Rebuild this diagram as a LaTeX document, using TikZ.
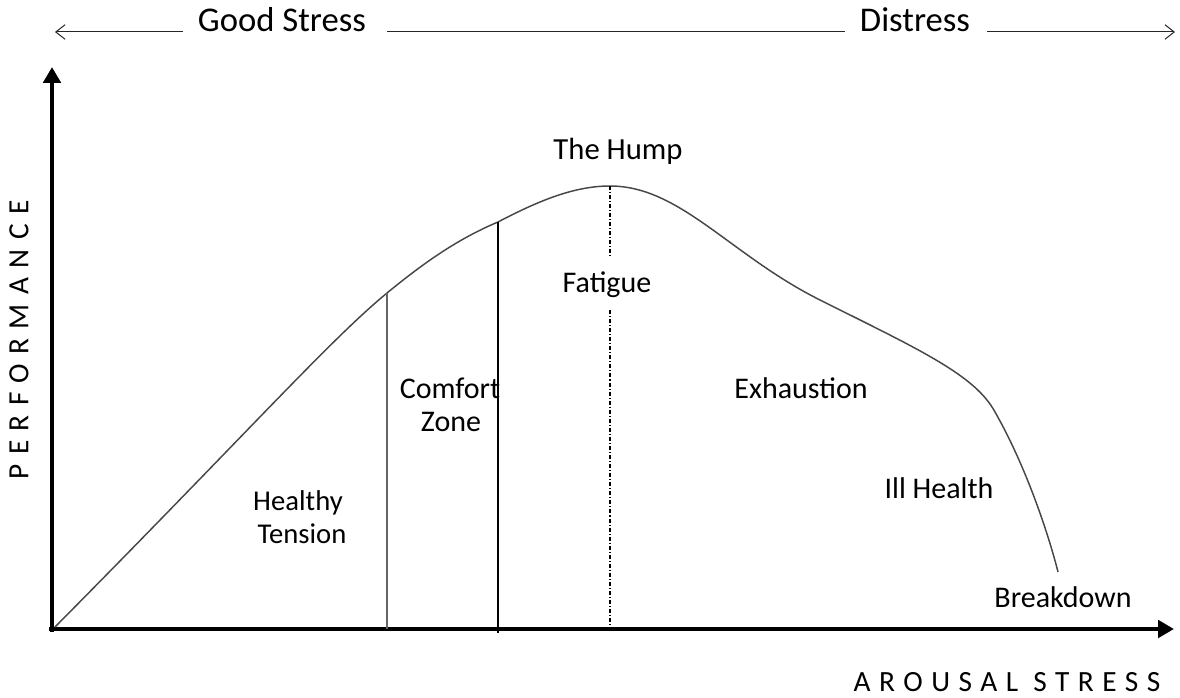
\documentclass[tikz,border=0pt]{standalone}
\usepackage{fontspec}
\setmainfont{Carlito}
\usetikzlibrary{arrows.meta}
\begin{document}
\begin{tikzpicture}[x=0.75pt,y=-0.75pt,
  lbl/.style={font=\fontsize{22.5}{27}\selectfont, anchor=base, inner sep=0pt},
  toplbl/.style={font=\fontsize{26}{31}\selectfont, anchor=base, inner sep=0pt},
  axislbl/.style={font=\fontsize{22}{26}\selectfont, inner sep=0pt},
  axis/.style={line width=3pt, -{Triangle[length=12pt,width=13pt]}},
  topline/.style={line width=0.75pt, draw=black!85},
  toparrow/.style={topline, -{Straight Barb[length=7pt,width=11pt,line width=0.75pt]}},
  curve/.style={line width=1.1pt, draw=black!72},
  divider/.style={line width=0.8pt},
  humpline/.style={line width=0.8pt, dash pattern=on 3pt off 1.5pt on 0.8pt off 1.5pt}
]
\useasboundingbox (0,0) rectangle (1180,698);

% coordinates
\coordinate (ytip) at (52,67);
\coordinate (xtip) at (1174,629);
\coordinate (ystart) at (52,632);
\coordinate (xstart) at (49,629);

% axes
\draw[axis] (ystart) -- (ytip);
\draw[axis] (xstart) -- (xtip);

% curve
\coordinate (c0) at (55,627);
\coordinate (c1) at (387,293);
\coordinate (c2) at (498,222);
\coordinate (peak) at (610,186);
\coordinate (c3) at (820,300);
\coordinate (c4) at (995,412);
\coordinate (cend) at (1058,572);
\draw[curve] (c0) .. controls (250,430) and (330,340) .. (c1)
  .. controls (420,266) and (455,240) .. (c2)
  .. controls (540,200) and (575,186) .. (peak)
  .. controls (680,186) and (730,255) .. (c3)
  .. controls (920,350) and (975,375) .. (c4)
  .. controls (1028,470) and (1050,540) .. (cend);

% dividers
\coordinate (d1b) at (387,629);
\coordinate (d2b) at (498,633);
\draw[divider, draw=black!60] (c1) -- (d1b);
\draw[divider] (c2) -- (d2b);
\coordinate (fatA) at (610,256);
\coordinate (fatB) at (610,310);
\coordinate (humpb) at (610,627);
\draw[humpline] (peak) -- (fatA);
\draw[humpline] (fatB) -- (humpb);

% top labels and arrows
\node[toplbl] (good) at (282,32) {Good Stress};
\node[toplbl] (dist) at (915,32) {Distress};
\coordinate (l0) at (55,32);
\coordinate (l1) at (183,32);
\coordinate (m0) at (387,32);
\coordinate (m1) at (845,32);
\coordinate (r0) at (987,32);
\coordinate (r1) at (1175,32);
\draw[toparrow] (l1) -- (l0);
\draw[topline] (m0) -- (m1);
\draw[toparrow] (r0) -- (r1);

% region labels
\node[toplbl, font=\fontsize{23}{28}\selectfont] (hump) at (618,160) {The Hump};
\node[lbl] (fatigue) at (607,292) {Fatigue};
\node[lbl] (comfort) at (450,398) {Comfort};
\node[lbl] (zone) at (451,431) {Zone};
\node[lbl, font=\fontsize{21.5}{26}\selectfont] (healthy) at (298,510) {Healthy};
\node[lbl, font=\fontsize{21.5}{26}\selectfont] (tension) at (302,543) {Tension};
\node[lbl] (exh) at (801,398) {Exhaustion};
\node[lbl] (ill) at (939,498) {Ill Health};
\node[lbl] (brk) at (1063,607) {Breakdown};

% axis labels
\node[axislbl, rotate=90] (perf) at (19,340) {\addfontfeature{LetterSpace=32}PERFORMANCE};
\node[axislbl] (arousal) at (1007,682) {\addfontfeature{LetterSpace=29}AROUSAL STRESS};
\end{tikzpicture}
\end{document}
